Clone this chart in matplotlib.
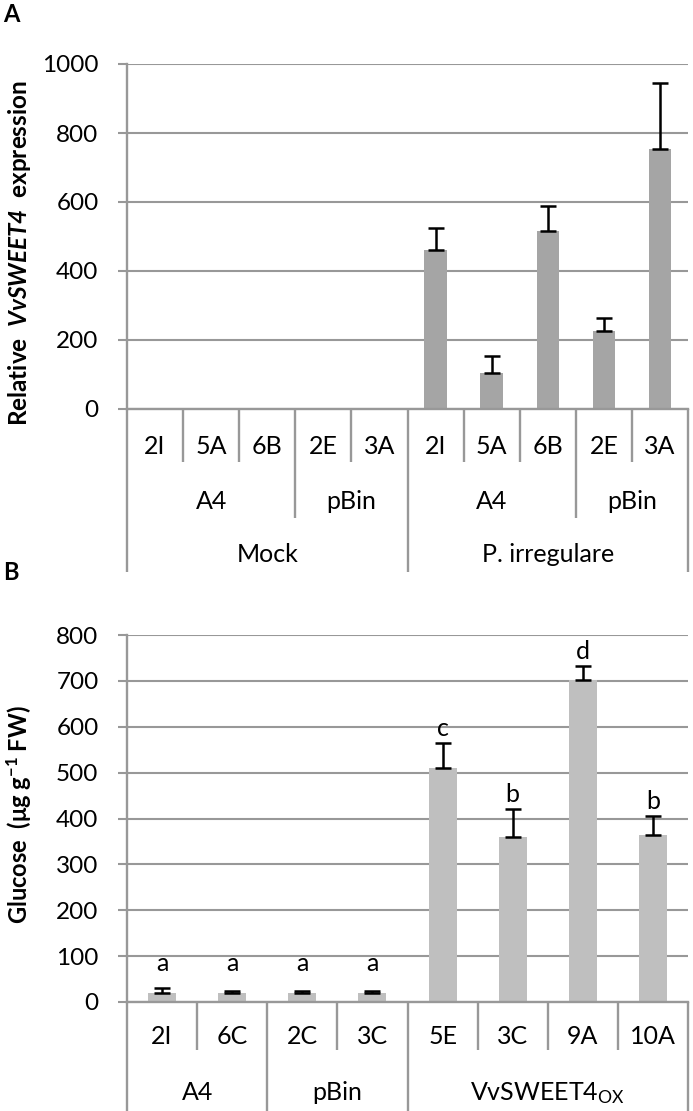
import matplotlib
matplotlib.use("Agg")
import matplotlib.pyplot as plt
import numpy as np
from matplotlib.transforms import blended_transform_factory

plt.rcParams['font.family'] = ['Lato', 'DejaVu Sans']
plt.rcParams['mathtext.fontset'] = 'custom'
plt.rcParams['mathtext.rm'] = 'Lato'
plt.rcParams['mathtext.it'] = 'Lato:italic'
plt.rcParams['mathtext.bf'] = 'Lato:bold'
plt.rcParams['mathtext.bfit'] = 'Lato:italic:bold'

# panel A: relative expression
a_lines = ['2I', '5A', '6B', '2E', '3A', '2I', '5A', '6B', '2E', '3A']
a_groups = ['A4', 'pBin', 'A4', 'pBin']
a_group_sizes = [3, 2, 3, 2]
a_treat = ['Mock', 'P. irregulare']
a_treat_sizes = [5, 5]
a_mean = [0, 0, 0, 0, 0, 461, 105, 516, 226, 754]
a_err = [0, 0, 0, 0, 0, 64, 48, 72, 38, 191]

# panel B: glucose
b_lines = ['2I', '6C', '2C', '3C', '5E', '3C', '9A', '10A']
b_groups = ['A4', 'pBin', r'VvSWEET4$_{\mathrm{OX}}$']
b_group_sizes = [2, 2, 4]
b_mean = [20, 20, 20, 20, 511, 359, 701, 365]
b_err = [10, 4, 4, 4, 54, 61, 32, 41]
b_letters = ['a', 'a', 'a', 'a', 'c', 'b', 'd', 'b']

W, H = 693, 1111
GRID = '#989898'


def setup(ax, ymax, step):
    ax.set_ylim(0, ymax)
    ax.set_yticks(np.arange(0, ymax + 1, step))
    ax.yaxis.grid(True, color=GRID, lw=1.5)
    ax.set_axisbelow(True)
    for s in ['top', 'right']:
        ax.spines[s].set_visible(False)
    for s in ['left', 'bottom']:
        ax.spines[s].set_color(GRID)
        ax.spines[s].set_linewidth(1.7)
    ax.tick_params(axis='y', length=6.5, width=1.5, color=GRID, pad=14, labelsize=17.5)
    ax.tick_params(axis='x', length=0, labelbottom=False)


def cat_axis(ax, labels, levels, line_ends, text_pos, h_px, fs):
    tr = blended_transform_factory(ax.transData, ax.transAxes)
    n = len(labels)
    depth = {i: line_ends[0] for i in range(n + 1)}
    for (names, sizes), end in zip(levels, line_ends[1:]):
        for e in np.cumsum([0] + sizes):
            depth[e] = max(depth[e], end)
    depth[0] = depth[n] = max(line_ends)
    for b, d in depth.items():
        ax.plot([b - 0.5, b - 0.5], [0, -d / h_px], transform=tr, clip_on=False,
                color=GRID, lw=1.7, solid_capstyle='butt')
    for i, lab in enumerate(labels):
        ax.text(i, -text_pos[0] / h_px, lab, transform=tr, ha='center', va='center', fontsize=fs)
    for (names, sizes), tp in zip(levels, text_pos[1:]):
        edges = np.cumsum([0] + sizes)
        for name, s, e in zip(names, sizes, edges[:-1]):
            ax.text(e + s / 2 - 0.5, -tp / h_px, name, transform=tr,
                    ha='center', va='center', fontsize=fs)


fig = plt.figure(figsize=(W / 100, H / 100), dpi=100)

# ---- panel A
top, bot = 64, 409
axA = fig.add_axes([127 / W, 1 - bot / H, (688 - 127) / W, (bot - top) / H])
hA = bot - top
setup(axA, 1000, 200)
x = np.arange(len(a_lines))
axA.bar(x, a_mean, width=0.4, color='#a5a5a5', zorder=2)
m = np.array(a_mean) > 0
axA.errorbar(x[m], np.array(a_mean)[m],
             yerr=[np.zeros(m.sum()), np.array(a_err)[m]],
             fmt='none', ecolor='black', elinewidth=1.8, capsize=5.8, capthick=1.8, zorder=3)
axA.set_xlim(-0.5, len(a_lines) - 0.5)
cat_axis(axA, a_lines, [(a_groups, a_group_sizes), (a_treat, a_treat_sizes)],
         [53, 109, 163], [38, 93, 146], hA, 18)
axA.set_ylabel(r'Relative  $\mathbfit{VvSWEET4}$  expression', fontsize=17.5, fontweight='bold')
axA.yaxis.set_label_coords((33 - 127) / 561, 1 - (253 - top) / hA)
fig.text(11 / W, 1 - 15 / H, 'A', fontsize=17, fontweight='bold', ha='center', va='center')

# ---- panel B
top, bot = 635, 1002
axB = fig.add_axes([127 / W, 1 - bot / H, (688 - 127) / W, (bot - top) / H])
hB = bot - top
setup(axB, 800, 100)
x = np.arange(len(b_lines))
axB.bar(x, b_mean, width=0.4, color='#bfbfbf', zorder=2)
axB.errorbar(x, b_mean, yerr=[np.zeros(len(b_err)), b_err], fmt='none', ecolor='black',
             elinewidth=1.8, capsize=5.8, capthick=1.8, zorder=3)
for i, (mv, ev, lt) in enumerate(zip(b_mean, b_err, b_letters)):
    axB.annotate(lt, (i, max(mv + ev, 52)), xytext=(0, 5), textcoords='offset points',
                 ha='center', va='baseline', fontsize=18)
axB.set_xlim(-0.5, len(b_lines) - 0.5)
cat_axis(axB, b_lines, [(b_groups, b_group_sizes)], [48, 112], [35, 91], hB, 18)
axB.set_ylabel(r'Glucose  (μg g$^{\mathbf{-1}}$ FW)', fontsize=17, fontweight='bold')
axB.yaxis.set_label_coords((33 - 127) / 561, 1 - (815 - top) / hB)
fig.text(11 / W, 1 - 573 / H, 'B', fontsize=17, fontweight='bold', ha='center', va='center')

fig.savefig('out.png', dpi=100)
